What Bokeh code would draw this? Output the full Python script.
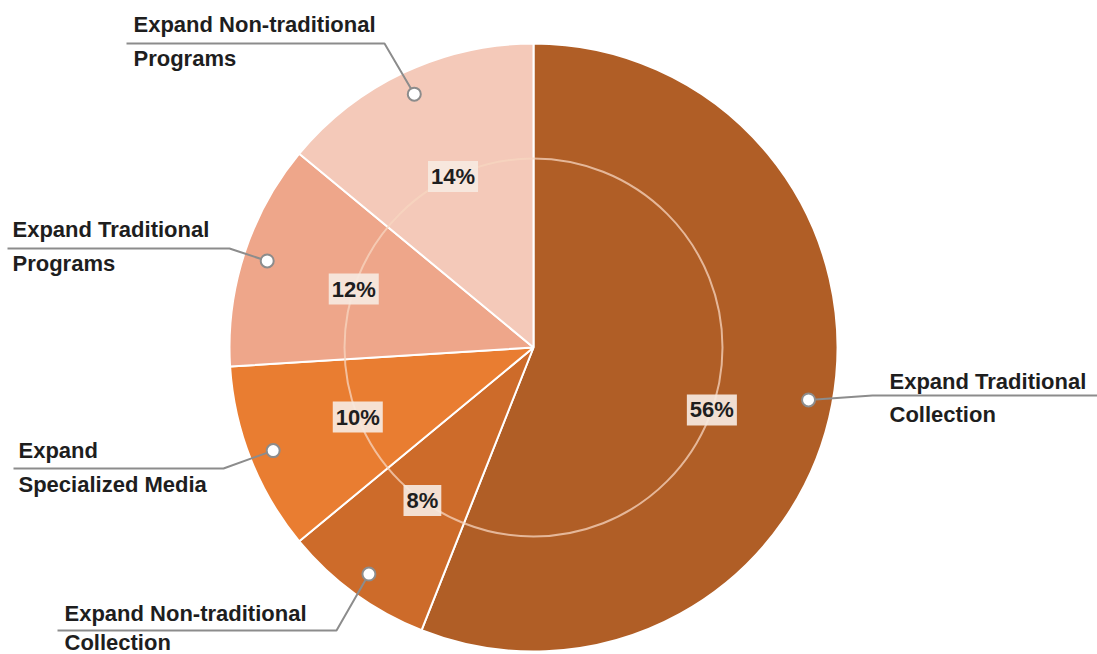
import math
from bokeh.plotting import figure
from bokeh.models import Range1d, ColumnDataSource, Label
from bokeh.embed import file_html
from bokeh.resources import INLINE
from bokeh.core.properties import value

# ---- data ----
categories = ["Expand Traditional Collection", "Expand Non-traditional Collection",
              "Expand Specialized Media", "Expand Traditional Programs",
              "Expand Non-traditional Programs"]
label_lines = [["Expand Traditional", "Collection"],
               ["Expand Non-traditional", "Collection"],
               ["Expand", "Specialized Media"],
               ["Expand Traditional", "Programs"],
               ["Expand Non-traditional", "Programs"]]
shares = [56, 8, 10, 12, 14]
colors = ["#b05e26", "#cd6b2a", "#e97d31", "#eea68a", "#f4c9b9"]

# ---- layout (pixel space, y measured downward from image top) ----
W, H = 1097, 654
IMG_H = 654
def Y(y):
    return IMG_H - y

TEXT_DY = -9
CX, CY = 533, Y(347)
R_OUT, R_IN, R_DOT = 304, 189, 280
pct_angle_shift = [-8.5, 0, 0, 0, 0]
# elbow x, elbow y, line end x, text x, baseline 1, baseline 2
callouts = [(872, 395, 1097, 889, 390, 423),
            (336, 630, 57, 64, 622, 651),
            (223, 468, 13, 18, 459, 493),
            (229, 248, 7, 12, 238, 272),
            (384, 43, 126, 133, 33, 67)]

p = figure(width=W, height=H, output_backend="svg", toolbar_location=None,
           x_range=Range1d(0, W), y_range=Range1d(IMG_H - H, IMG_H),
           min_border=0, outline_line_color=None)
p.axis.visible = False
p.grid.visible = False
p.background_fill_color = "white"

# wedge angles
starts, ends, mids = [], [], []
cum = 0
for v in shares:
    a0 = 90 - cum * 3.6
    a1 = a0 - v * 3.6
    starts.append(a1)
    ends.append(a0)
    mids.append((a0 + a1) / 2)
    cum += v

src = ColumnDataSource(dict(cat=categories, start=starts, end=ends, color=colors,
                            x=[CX] * len(shares), y=[CY] * len(shares)))
p.wedge(x="x", y="y", radius=R_OUT, start_angle="start", end_angle="end",
        start_angle_units="deg", end_angle_units="deg", direction="anticlock",
        fill_color="color", line_color="white", line_width=2, source=src)

# inner ring
p.circle(x=[CX], y=[CY], radius=R_IN, fill_color=None, line_color="#f7d6c0",
         line_alpha=0.75, line_width=2)

# callouts
for i, m in enumerate(mids):
    rad = math.radians(m)
    dx, dy = CX + R_DOT * math.cos(rad), CY + R_DOT * math.sin(rad)
    ex, ey, hx, tx, b1, b2 = callouts[i]
    p.line(x=[dx, ex, hx], y=[dy, Y(ey), Y(ey)], line_color="#8c8c8c", line_width=2)
    p.scatter(x=[dx], y=[dy], size=13, marker="circle", fill_color="white",
              line_color="#8c8c8c", line_width=2)
    p.text(x=[tx, tx], y=[Y(b1 + TEXT_DY), Y(b2 + TEXT_DY)], text=label_lines[i],
           text_font=value("Liberation Sans"), text_font_style="bold",
           text_font_size="22px", text_color="#1e1e1e",
           text_align="left", text_baseline="alphabetic")

# percentage labels
for i, m in enumerate(mids):
    rad = math.radians(m + pct_angle_shift[i])
    lx, ly = CX + R_IN * math.cos(rad), CY + R_IN * math.sin(rad)
    p.add_layout(Label(x=lx, y=ly, text=f"{shares[i]}%",
                       text_font="Liberation Sans", text_font_style="bold",
                       text_font_size="22px", text_color="#1e1e1e",
                       text_align="center", text_baseline="middle",
                       background_fill_color="#f6e9df", background_fill_alpha=0.92,
                       padding=3))

open("out.html", "w").write(file_html(p, INLINE))
